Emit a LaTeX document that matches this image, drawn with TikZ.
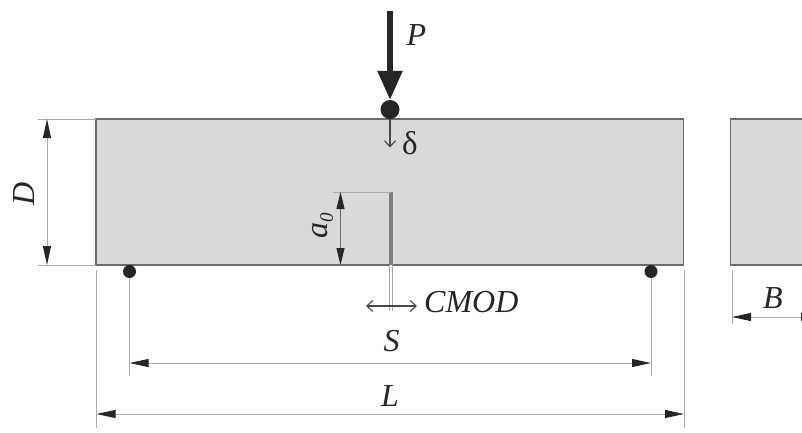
\documentclass[tikz,border=0pt]{standalone}
\usepackage{fontspec}
\setmainfont{Liberation Serif}
\usetikzlibrary{arrows.meta}
\definecolor{beamfill}{HTML}{D8DAD9}
\definecolor{edge}{HTML}{6A6B6A}
\definecolor{notchgrey}{HTML}{7E7F7E}
\definecolor{ink}{HTML}{262626}
\definecolor{thin}{HTML}{ABABAB}
\tikzset{
  block/.style={draw=edge,line width=1.6pt,fill=beamfill,inner sep=0pt,outer sep=0pt,anchor=north west},
  dim/.style={draw=thin,line width=1pt},
  dimarrow/.style={dim,{Triangle[length=19pt,width=8pt,color=ink]}-{Triangle[length=19pt,width=8pt,color=ink]}},
  ext/.style={draw=thin,line width=0.8pt},
  small/.style={draw=ink!85,line width=1.1pt,-{Straight Barb[length=6pt,width=11pt]}},
  smalltwo/.style={draw=ink!85,line width=1.1pt,{Straight Barb[length=6pt,width=11pt]}-{Straight Barb[length=6pt,width=11pt]}},
  lab/.style={font=\fontsize{32}{32}\selectfont\itshape,text=ink,inner sep=0pt},
  ball/.style={circle,fill=ink,inner sep=0pt},
}
\begin{document}
\begin{tikzpicture}[x=1pt,y=-1pt]
\useasboundingbox (0,0) rectangle (802,432);
\clip (0,0) rectangle (802,432);
% blocks
\node[block,minimum width=587.5pt,minimum height=146pt] (beam) at (96,119) {};
\node[block,minimum width=90pt,minimum height=146pt] (side) at (730.5,119) {};
% notch
\coordinate (notchtop) at (391,192);
\coordinate (notchbot) at (391,265);
\draw[draw=notchgrey,line width=3.2pt] (notchtop) -- (notchbot);
% load
\node[ball,minimum size=19pt] (loadball) at (390,109.5) {};
\coordinate (ptop) at (390,11);
\draw[draw=ink,line width=5.5pt,-{Triangle[length=29pt,width=24pt,color=ink]}] (ptop) -- (loadball.north);
\node[lab] (plabel) at (416.5,35) {P};
% delta
\coordinate (dtip) at (390,147.5);
\draw[small] (loadball.south) -- (dtip);
\node[font=\fontsize{33}{33}\selectfont,text=ink,inner sep=0pt] (dlabel) at (410,143) {δ};
% supports
\node[ball,minimum size=13pt] (supl) at (129.5,271.5) {};
\node[ball,minimum size=13pt] (supr) at (651,271.5) {};
% D dimension
\coordinate (dt0) at (38,119);
\coordinate (db0) at (38,265);
\coordinate (dta) at (47,119);
\coordinate (dba) at (47,265);
\draw[ext] (dt0) -- (beam.north west);
\draw[ext] (db0) -- (beam.south west);
\draw[dimarrow] (dta) -- (dba);
\node[lab,rotate=90] (Dlabel) at (24,194) {D};
% a0 dimension
\coordinate (a0ext) at (333,192);
\coordinate (a0t) at (340.5,192);
\coordinate (a0b) at (340.5,265);
\draw[ext] (a0ext) -- (notchtop);
\draw[dim,draw=edge,{Triangle[length=17pt,width=8pt,color=ink]}-{Triangle[length=17pt,width=8pt,color=ink]}] (a0t) -- (a0b);
\node[lab,rotate=90] (alabel) at (323,226) {a\raisebox{-5pt}{\fontsize{19}{19}\selectfont 0}};
% CMOD
\coordinate (cmodbot) at (391,311);
\coordinate (cmodl) at (366,306);
\coordinate (cmodr) at (417,306);
\draw[draw=thin,line width=3.6pt] (notchbot) -- (cmodbot);
\draw[draw=white,line width=1.8pt] (notchbot) -- (cmodbot);
\draw[smalltwo] (cmodl) -- (cmodr);
\node[lab,anchor=west] (cmodlabel) at (424,302) {CMOD};
% S dimension
\coordinate (sl) at (129.5,363);
\coordinate (sr) at (651,363);
\coordinate (slext) at (129.5,376);
\coordinate (srext) at (651,376);
\draw[ext] (supl) -- (slext);
\draw[ext] (supr) -- (srext);
\draw[dimarrow] (sl) -- (sr);
\node[lab] (Slabel) at (391.5,341) {S};
% L dimension
\coordinate (ll) at (96.5,414);
\coordinate (lr) at (684,414);
\coordinate (llt) at (96.5,270);
\coordinate (lrt) at (684,270);
\coordinate (llb) at (96.5,428);
\coordinate (lrb) at (684,428);
\draw[ext] (llt) -- (llb);
\draw[ext] (lrt) -- (lrb);
\draw[dimarrow] (ll) -- (lr);
\node[lab] (Llabel) at (390,396.5) {L};
% B dimension
\coordinate (bt) at (732,271);
\coordinate (bb) at (732,324);
\coordinate (bl) at (732,317);
\coordinate (br) at (820,317);
\draw[ext] (bt) -- (bb);
\draw[dimarrow] (bl) -- (br);
\node[lab] (Blabel) at (773,298) {B};
\end{tikzpicture}
\end{document}
